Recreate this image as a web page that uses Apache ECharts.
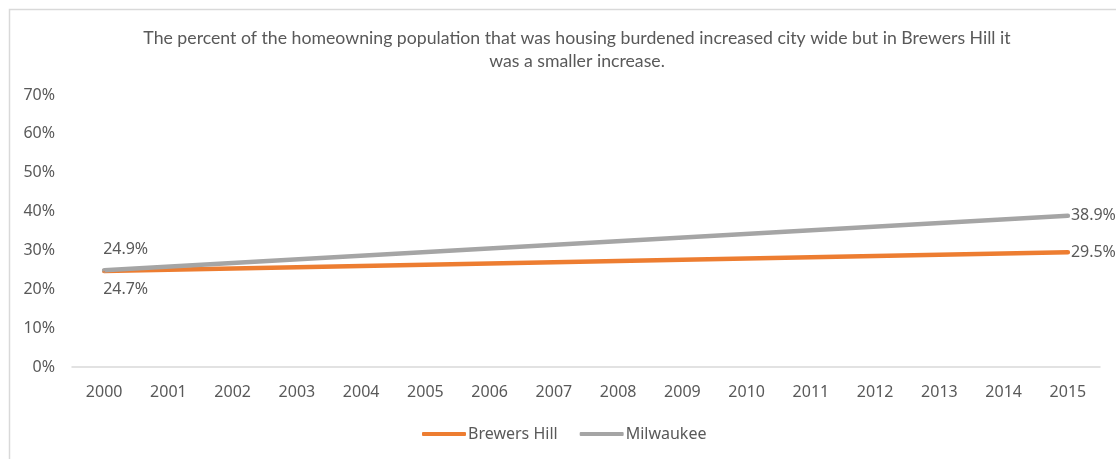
<!DOCTYPE html>
<html>
<head>
<meta charset="utf-8">
<script src="https://cdn.jsdelivr.net/npm/echarts@6/dist/echarts.min.js"></script>
<style>
html,body{margin:0;padding:0;background:#fff;}
#chart{width:1116px;height:459px;}
</style>
</head>
<body>
<div id="chart"></div>
<script>
const years = ['2000','2001','2002','2003','2004','2005','2006','2007','2008','2009','2010','2011','2012','2013','2014','2015'];
const brewersHill = [24.7, null, null, null, null, null, null, null, null, null, null, null, null, null, null, 29.5];
const milwaukee = [24.9, null, null, null, null, null, null, null, null, null, null, null, null, null, null, 38.9];
const yTicks = [0, 10, 20, 30, 40, 50, 60, 70];
const titleText = 'The percent of the homeowning population that was housing burdened increased city wide but in Brewers Hill it\nwas a smaller increase.';

const txt = '#595959';
const labelFont = {fontFamily: 'Noto Sans', fontSize: 16, color: txt};
const fmt = p => Number(p.value).toFixed(1) + '%';

function mkData(vals, firstLabel, lastLabel) {
  return vals.map((v, i) => {
    if (v === null) return null;
    const o = {value: v};
    if (i === 0) o.label = firstLabel;
    else if (i === vals.length - 1) o.label = lastLabel;
    return o;
  });
}

function series(name, color, vals, firstOffsetY) {
  return {
    name: name, type: 'line', connectNulls: true,
    symbol: 'circle', symbolSize: 2, showSymbol: true,
    itemStyle: {color: color},
    lineStyle: {color: color, width: 4.5, cap: 'round'},
    label: Object.assign({show: false, formatter: fmt}, labelFont),
    data: mkData(vals,
      Object.assign({show: true, position: [0, firstOffsetY], align: 'left', verticalAlign: 'middle', formatter: fmt}, labelFont),
      Object.assign({show: true, position: 'right', distance: 2, formatter: fmt}, labelFont))
  };
}

const chart = echarts.init(document.getElementById('chart'), null, {renderer: 'canvas'});
chart.setOption({
  animation: false,
  backgroundColor: '#fff',
  graphic: [{
    type: 'rect', left: 7, top: 7, silent: true,
    shape: {width: 1200, height: 500},
    style: {fill: 'none', stroke: '#d9d9d9', lineWidth: 1.5}
  }],
  title: {
    text: titleText,
    left: 572, top: 22, textAlign: 'center',
    textStyle: {fontFamily: 'Lato', fontSize: 17.7, fontWeight: 'normal', color: txt, lineHeight: 23}
  },
  legend: {
    bottom: 12, left: 417,
    itemWidth: 44, itemHeight: 4, itemGap: 22,
    icon: 'roundRect',
    textStyle: {fontFamily: 'Noto Sans', fontSize: 16, color: txt, padding: [0, 0, 0, -3]},
    data: [
      {name: 'Brewers Hill', itemStyle: {color: '#ED7D31'}},
      {name: 'Milwaukee', itemStyle: {color: '#A5A5A5'}}
    ]
  },
  grid: {left: 72, right: 16, top: 95, bottom: 92, containLabel: false},
  xAxis: {
    type: 'category', data: years, boundaryGap: true,
    axisLine: {lineStyle: {color: '#d9d9d9', width: 1.5}},
    axisTick: {show: false},
    axisLabel: Object.assign({margin: 17}, labelFont)
  },
  yAxis: {
    type: 'value', min: 0, max: 70, interval: 10,
    splitLine: {show: false},
    axisLine: {show: false}, axisTick: {show: false},
    axisLabel: Object.assign({formatter: v => yTicks.includes(v) ? v + '%' : '', margin: 17}, labelFont)
  },
  series: [
    series('Brewers Hill', '#ED7D31', brewersHill, 19),
    series('Milwaukee', '#A5A5A5', milwaukee, -20)
  ]
});
</script>
</body>
</html>
